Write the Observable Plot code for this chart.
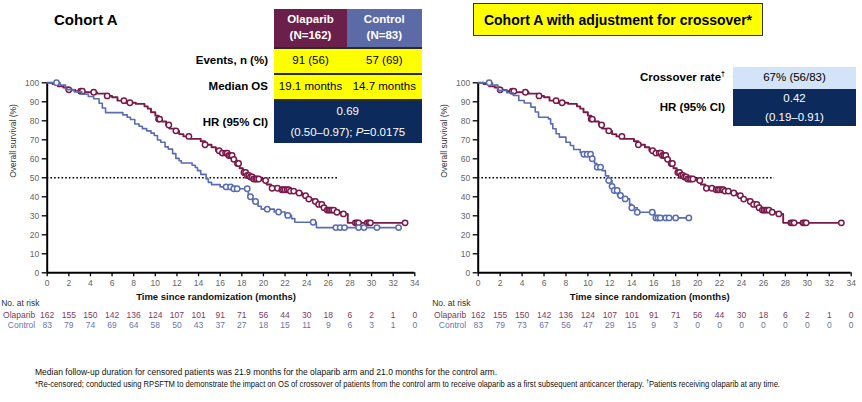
<!DOCTYPE html>
<html>
<head>
<meta charset="utf-8">
<script src="https://cdn.jsdelivr.net/npm/d3@7"></script>
<script src="https://cdn.jsdelivr.net/npm/@observablehq/plot@0.6"></script>
<style>
  body { margin: 0; background: #fff; font-family: "Liberation Sans", Arial, sans-serif; }
  #wrap { position: relative; width: 862px; height: 402px; overflow: hidden; background: #fff; }
  .abs { position: absolute; box-sizing: border-box; }
  .panel { position: absolute; top: 0; }
  .title { font-weight: bold; font-size: 15px; color: #000; white-space: nowrap; }
  .cell { display: flex; align-items: center; justify-content: center; text-align: center; font-size: 11.5px; line-height: 1.35; white-space: nowrap; }
  .head { color: #fff; font-weight: bold; }
  .lab { font-weight: bold; font-size: 11.5px; text-align: right; white-space: nowrap; }
  .note { font-family: "Liberation Sans Narrow", "Liberation Sans", Arial, sans-serif; font-size: 8.4px; color: #111; white-space: nowrap; transform-origin: 0 50%; }
</style>
</head>
<body>
<div id="wrap"></div>
<script>
// ---- risk table and axes ----
const riskMonths = [0, 2, 4, 6, 8, 10, 12, 14, 16, 18, 20, 22, 24, 26, 28, 30, 32, 34];
const survTicks = [0, 10, 20, 30, 40, 50, 60, 70, 80, 90, 100];
const olapRiskA = [162, 155, 150, 142, 136, 124, 107, 101, 91, 71, 56, 44, 30, 18, 6, 2, 1, 0];
const ctrlRiskA = [83, 79, 74, 69, 64, 58, 50, 43, 37, 27, 18, 15, 11, 9, 6, 3, 1, 0];
const olapRiskB = [162, 155, 150, 142, 136, 124, 107, 101, 91, 71, 56, 44, 30, 18, 6, 2, 1, 0];
const ctrlRiskB = [83, 79, 73, 67, 56, 47, 29, 15, 9, 3, 0, 0, 0, 0, 0, 0, 0, 0];

// ---- Kaplan–Meier steps: [month, survival %] ----
const olapSteps = [
  [0, 100], [0.5, 99.4], [1.0, 98.1], [1.5, 97.5], [2.0, 96.3], [2.6, 95.6], [3.3, 95.0],
  [4.6, 94.3], [5.4, 93.1], [6.0, 92.4], [6.5, 90.6], [7.2, 89.5], [8.2, 88.9], [9.0, 87.6],
  [9.3, 86.4], [9.6, 84.5], [10.0, 82.7], [10.3, 80.9], [10.6, 79.6], [11.0, 77.8], [11.3, 75.9],
  [11.8, 74.7], [12.2, 73.0], [12.6, 71.8], [13.3, 70.5], [14.2, 69.2], [14.6, 67.4], [15.2, 66.1],
  [15.6, 64.2], [16.2, 63.0], [16.8, 61.7], [17.2, 59.7], [17.5, 57.5], [17.8, 55.0], [18.1, 52.8],
  [18.4, 51.2], [18.7, 50.4], [19.1, 49.4], [19.9, 48.6], [20.3, 46.5], [20.7, 44.5], [21.4, 43.7],
  [22.4, 43.0], [23.0, 42.0], [23.6, 40.6], [24.1, 38.8], [24.6, 37.5], [25.1, 36.0], [25.5, 34.3],
  [25.9, 33.0], [26.8, 31.9], [27.2, 31.0], [27.8, 26.3]
];
const olapEnd = 33.1;
const olapCens = [
  2.0, 3.1, 3.25, 4.3, 5.55, 7.1, 7.65, 10.3, 10.4, 11.25, 11.9, 13.1, 14.6, 15.9, 16.2, 16.5,
  16.65, 16.8, 16.96, 17.1, 17.26, 17.6, 17.7, 18.2, 18.35, 18.5, 18.65, 18.8, 18.96, 19.1,
  19.27, 19.4, 19.57, 20.2, 20.8, 21.3, 21.7, 21.85, 22.0, 22.2, 22.35, 22.5, 22.8, 23.3,
  23.9, 24.2, 24.8, 25.1, 25.4, 25.6, 25.9, 26.05, 26.2, 26.35, 26.5, 26.8, 27.4, 28.5, 28.65,
  28.8, 29.6, 29.75, 29.9, 33.1
];

const ctrlStepsA = [
  [0, 100], [1.2, 98.8], [1.7, 96.4], [2.5, 95.2], [3.2, 94.0], [3.8, 92.8], [4.3, 91.6],
  [4.8, 89.2], [5.1, 86.7], [5.4, 84.3], [7.0, 83.1], [7.4, 81.9], [7.7, 80.7], [8.1, 78.3],
  [8.5, 77.1], [8.8, 75.9], [9.2, 74.7], [9.6, 73.5], [9.9, 72.3], [10.2, 69.9], [10.5, 68.7],
  [10.9, 66.3], [11.2, 65.1], [11.6, 62.7], [11.9, 60.2], [12.2, 59.0], [12.4, 57.8], [13.4, 56.6],
  [13.7, 55.4], [13.9, 53.8], [14.2, 51.8], [14.7, 49.4], [14.9, 47.6], [15.2, 46.4], [16.0, 45.2],
  [17.0, 44.2], [18.6, 40.0], [19.0, 37.5], [19.5, 35.0], [19.8, 33.5], [21.0, 32.0], [22.0, 30.2],
  [22.6, 28.5], [22.9, 26.6], [24.9, 23.8]
];
const ctrlEndA = 32.5;
const ctrlCensA = [
  0.86, 16.55, 16.96, 17.26, 17.57, 18.5, 18.8, 19.27, 20.35, 21.4, 22.26, 24.6,
  26.7, 27.1, 27.5, 28.8, 29.3, 30.5, 32.5
];

const ctrlStepsB = [
  [0, 100], [1.3, 98.8], [1.8, 96.0], [2.6, 94.8], [3.2, 93.3], [3.7, 90.7], [4.2, 89.4],
  [4.8, 87.2], [5.2, 84.6], [5.5, 81.9], [6.4, 81.0], [6.6, 78.4], [6.8, 75.8], [7.1, 73.2],
  [7.4, 71.4], [8.0, 68.7], [8.4, 67.0], [8.7, 64.9], [9.3, 63.2], [9.6, 62.4], [10.3, 60.0],
  [10.6, 57.6], [10.8, 55.6], [11.3, 53.8], [11.6, 51.0], [11.9, 48.6], [12.2, 45.5], [12.4, 43.3],
  [12.7, 40.7], [13.2, 38.9], [13.8, 36.0], [14.0, 34.2], [14.5, 31.9], [16.1, 28.9]
];
const ctrlEndB = 19.2;
const ctrlCensB = [
  1.0, 9.63, 9.93, 10.24, 10.39, 10.85, 11.15, 11.9, 12.2, 12.4, 12.67, 12.97, 13.4, 14.0,
  14.5, 15.86, 16.2, 16.4, 16.6, 17.1, 17.4, 18.0, 19.2
];

const medianLineEnd = 27;

// ---- colours ----
const olapColor = "#7a1a4a";
const ctrlColor = "#5a6cb2";
const olapText = "#7e3a5e";
const ctrlText = "#6b74a8";
const tickFont = "'Liberation Sans Narrow', 'Liberation Sans', Arial, sans-serif";

function survivalAt(steps, t) {
  let s = steps[0][1];
  for (const [tt, ss] of steps) if (tt <= t) s = ss;
  return s;
}

function kmPanel({olap, olapEnd, olapCens, ctrl, ctrlEnd, ctrlCens, olapRisk, ctrlRisk, marginRight}) {
  const olapLine = [...olap, [olapEnd, olap[olap.length - 1][1]]];
  const ctrlLine = [...ctrl, [ctrlEnd, ctrl[ctrl.length - 1][1]]];
  const risk = riskMonths.map((m, i) => ({m, o: olapRisk[i], c: ctrlRisk[i]}));
  return Plot.plot({
    width: 431,
    height: 402,
    marginLeft: 46.7,
    marginRight,
    marginTop: 82.3,
    marginBottom: 129.7,
    x: {domain: [0, 34]},
    y: {domain: [0, 100]},
    style: {background: "transparent", overflow: "visible", fontFamily: tickFont},
    marks: [
      Plot.axisY({ticks: survTicks, tickSize: 5, tickPadding: 3, fontSize: 8.5, stroke: "#000", strokeWidth: 1.3, fill: "#666", label: null}),
      Plot.axisX({ticks: riskMonths, tickSize: 4, tickPadding: 3, fontSize: 8.5, stroke: "#000", strokeWidth: 1.3, fill: "#666", label: null}),
      Plot.ruleY([0], {x1: 0, x2: 34, stroke: "#000", strokeWidth: 2}),
      Plot.ruleX([0], {y1: 0, y2: 100, stroke: "#000", strokeWidth: 2}),
      Plot.ruleY([50], {x1: 0, x2: medianLineEnd, stroke: "#000", strokeWidth: 1.6, strokeDasharray: "1.6 2.1"}),
      Plot.line(olapLine, {x: d => d[0], y: d => d[1], curve: "step-after", stroke: olapColor, strokeWidth: 1.9}),
      Plot.dot(olapCens, {x: d => d, y: d => survivalAt(olap, d), r: 2.7, stroke: olapColor, strokeWidth: 1.5, fill: "#fff"}),
      Plot.line(ctrlLine, {x: d => d[0], y: d => d[1], curve: "step-after", stroke: ctrlColor, strokeWidth: 1.6}),
      Plot.dot(ctrlCens, {x: d => d, y: d => survivalAt(ctrl, d), r: 2.7, stroke: ctrlColor, strokeWidth: 1.5, fill: "#fff"}),
      Plot.text(["Overall survival (%)"], {frameAnchor: "left", dx: -34, rotate: -90, fontSize: 8.5, fill: "#333"}),
      Plot.text(["Time since randomization (months)"], {frameAnchor: "bottom", dx: -15, dy: 27, fontSize: 9.5, fontWeight: "bold", fill: "#111", fontFamily: "'Liberation Sans', Arial, sans-serif"}),
      Plot.text(["No. at risk"], {frameAnchor: "bottom-left", dx: -46, dy: 33, textAnchor: "start", fontSize: 8.5, fill: "#333"}),
      Plot.text(["Olaparib"], {frameAnchor: "bottom-left", dx: -12, dy: 45, textAnchor: "end", fontSize: 8.5, fill: olapText}),
      Plot.text(["Control"], {frameAnchor: "bottom-left", dx: -12, dy: 55, textAnchor: "end", fontSize: 8.5, fill: ctrlText}),
      Plot.text(risk, {x: "m", text: d => String(d.o), frameAnchor: "bottom", dy: 45, fontSize: 8.5, fill: olapText}),
      Plot.text(risk, {x: "m", text: d => String(d.c), frameAnchor: "bottom", dy: 55, fontSize: 8.5, fill: ctrlText})
    ]
  });
}

const wrap = document.getElementById("wrap");

const left = kmPanel({
  olap: olapSteps, olapEnd, olapCens,
  ctrl: ctrlStepsA, ctrlEnd: ctrlEndA, ctrlCens: ctrlCensA,
  olapRisk: olapRiskA, ctrlRisk: ctrlRiskA, marginRight: 16.7
});
left.classList.add("panel");
left.style.left = "0px";
wrap.appendChild(left);

const right = kmPanel({
  olap: olapSteps, olapEnd, olapCens,
  ctrl: ctrlStepsB, ctrlEnd: ctrlEndB, ctrlCens: ctrlCensB,
  olapRisk: olapRiskB, ctrlRisk: ctrlRiskB, marginRight: 11.3
});
right.classList.add("panel");
right.style.left = "431px";
wrap.appendChild(right);

// ---- titles, summary tables and footnotes ----
function box(html, css, cls = "abs") {
  const d = document.createElement("div");
  d.className = cls;
  d.innerHTML = cls.includes("cell") ? `<div>${html}</div>` : html;
  Object.assign(d.style, css);
  wrap.appendChild(d);
  return d;
}

box("Cohort A", {left: "54px", top: "11px"}, "abs title");
box("Cohort A with adjustment for crossover*", {
  left: "473px", top: "3px", width: "290px", height: "33px", background: "#ffff00",
  border: "1px solid #333", display: "flex", alignItems: "center", justifyContent: "center",
  fontSize: "14px"
}, "abs title");

// left summary table
box("", {left: "274px", top: "46.5px", width: "147.6px", height: "96.2px", background: "#2b2b2b"});
box("Olaparib<br>(N=162)", {left: "274px", top: "9px", width: "73px", height: "38px", background: "#6b1f4b"}, "abs cell head");
box("Control<br>(N=83)", {left: "347px", top: "9px", width: "74.6px", height: "38px", background: "#5c6aa8"}, "abs cell head");
box("91 (56)", {left: "274px", top: "48.7px", width: "73px", height: "24.3px", background: "#ffff00"}, "abs cell");
box("57 (69)", {left: "347px", top: "48.7px", width: "74.6px", height: "24.3px", background: "#ffff00"}, "abs cell");
box("19.1 months", {left: "274px", top: "75px", width: "73px", height: "23.5px", background: "#ffff00"}, "abs cell");
box("14.7 months", {left: "347px", top: "75px", width: "74.6px", height: "23.5px", background: "#ffff00"}, "abs cell");
box("0.69<br>(0.50–0.97); <i>P</i>=0.0175", {left: "274px", top: "100.5px", width: "147.6px", height: "42.2px", background: "#0c2a5c", color: "#fff", lineHeight: "1.8"}, "abs cell");
box("Events, n (%)", {right: `${862 - 268}px`, top: "54px"}, "abs lab");
box("Median OS", {right: `${862 - 268}px`, top: "80px"}, "abs lab");
box("HR (95% CI)", {right: `${862 - 268}px`, top: "116px"}, "abs lab");

// right summary table
box("Crossover rate<sup style='font-size:7px'>†</sup>", {right: `${862 - 725}px`, top: "70px"}, "abs lab");
box("67% (56/83)", {left: "733px", top: "67px", width: "123px", height: "22px", background: "#d3e3f8"}, "abs cell");
box("0.42<br>(0.19–0.91)", {left: "733px", top: "89px", width: "123px", height: "37px", background: "#0c2a5c", color: "#fff", lineHeight: "1.65"}, "abs cell");
box("HR (95% CI)", {right: `${862 - 725}px`, top: "101px"}, "abs lab");

// footnotes, each fitted to its line length
const notes = [
  ["Median follow-up duration for censored patients was 21.9 months for the olaparib arm and 21.0 months for the control arm.", 367, 462],
  ["*Re-censored; conducted using RPSFTM to demonstrate the impact on OS of crossover of patients from the control arm to receive olaparib as a first subsequent anticancer therapy. <sup style='font-size:6px'>†</sup>Patients receiving olaparib at any time.", 378, 745]
];
for (const [html, top, w] of notes) {
  const n = box(html, {left: "35px", top: `${top}px`}, "abs note");
  const actual = n.getBoundingClientRect().width;
  if (actual > 0) n.style.transform = `scaleX(${w / actual})`;
}
</script>
</body>
</html>
